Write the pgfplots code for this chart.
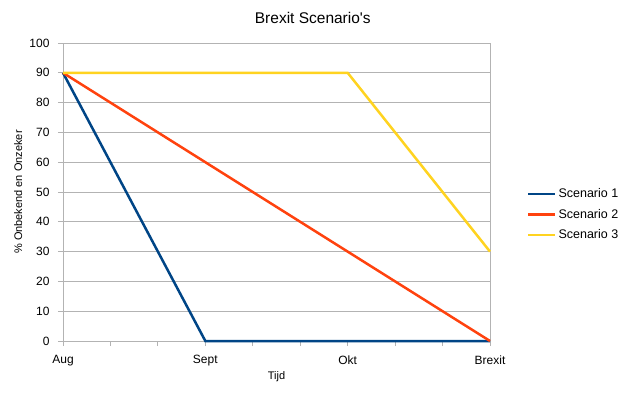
\documentclass[border=0pt]{standalone}
\usepackage{fontspec}
\setmainfont{Liberation Sans}
\usepackage{pgfplots}
\pgfplotsset{compat=1.18}
\definecolor{s1}{HTML}{004586}
\definecolor{s2}{HTML}{FF420E}
\definecolor{s3}{HTML}{FFD320}
\definecolor{gridc}{HTML}{B3B3B3}
\begin{document}
\begin{tikzpicture}[x=1pt,y=1pt]
\path[use as bounding box] (0,0) rectangle (627,392);
\begin{axis}[
 at={(63pt,51pt)}, anchor=south west, scale only axis, width=427pt, height=298pt,
 xmin=0, xmax=3, ymin=0, ymax=100,
 xtick={0,1,2,3}, xticklabels={Aug,Sept,Okt,Brexit},
 minor x tick num=2,
 ytick={0,10,...,100},
 ymajorgrids, grid style={gridc, line width=0.8pt},
 axis line style={gridc, line width=0.8pt},
 tick style={gridc, line width=0.8pt},
 tick align=outside, major tick length=5pt, minor tick length=5pt,
 tick pos=left,
 clip=false,
 ticklabel style={font=\fontsize{12}{14}\selectfont, text=black},
 xticklabel style={yshift=-6pt},
 yticklabel style={xshift=-5pt},
 /pgf/number format/assume math mode=true,
 title={Brexit Scenario\textquotesingle s},
 title style={at={(axis description cs:0.585,1.064)}, anchor=center, font=\fontsize{15.5}{18}\selectfont},
 xlabel={Tijd},
 xlabel style={at={(axis description cs:0.5,-0.12)}, anchor=center, font=\fontsize{11}{13}\selectfont},
 ylabel={\% Onbekend en Onzeker},
 ylabel style={at={(axis description cs:-0.105,0.5)}, anchor=center, font=\fontsize{11}{13}\selectfont},
 legend style={at={(axis description cs:1.196,0.425)}, anchor=center, draw=none, fill=none, font=\fontsize{12.5}{15}\selectfont, row sep=6pt},
 legend cell align=left,
 legend image code/.code={\draw[#1, line width=2.5pt] (0pt,0pt) -- (27pt,0pt);},
]
\addplot[s1, line width=2.5pt, mark=none] coordinates {(0,90) (1,0) (2,0) (3,0)};
\addlegendentry{Scenario 1}
\addplot[s2, line width=2.5pt, mark=none] coordinates {(0,90) (1,60) (2,30) (3,0)};
\addlegendentry{Scenario 2}
\addplot[s3, line width=2.5pt, mark=none] coordinates {(0,90) (1,90) (2,90) (3,30)};
\addlegendentry{Scenario 3}
\end{axis}
\end{tikzpicture}
\end{document}
